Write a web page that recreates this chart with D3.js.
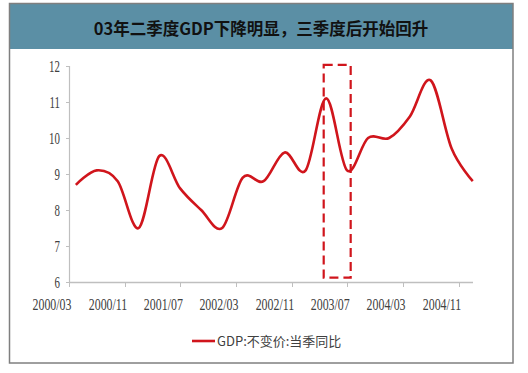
<!DOCTYPE html>
<html lang="zh">
<head>
<meta charset="utf-8">
<title>GDP</title>
<script src="https://d3js.org/d3.v7.min.js"></script>
<style>
  body { margin: 0; background: #fff; }
  .tick-label { font-family: "Liberation Serif", "DejaVu Serif", serif; font-size: 16px; fill: #404040; }
</style>
</head>
<body>
<script>
// quarterly real GDP growth, 2000Q1 - 2004Q4
var quarters = ["2000-03-31", "2000-06-30", "2000-09-30", "2000-12-31",
                "2001-03-31", "2001-06-30", "2001-09-30", "2001-12-31",
                "2002-03-31", "2002-06-30", "2002-09-30", "2002-12-31",
                "2003-03-31", "2003-06-30", "2003-09-30", "2003-12-31",
                "2004-03-31", "2004-06-30", "2004-09-30", "2004-12-31"];
var gdp = [8.7, 9.1, 8.8, 7.5,
           9.5, 8.6, 8.0, 7.5,
           8.9, 8.8, 9.6, 9.1,
           11.1, 9.1, 10.0, 10.0,
           10.6, 11.6, 9.7, 8.8];
var xTickLabels = ["2000/03", "2000/11", "2001/07", "2002/03", "2002/11", "2003/07", "2004/03", "2004/11"];
var yTicks = [6, 7, 8, 9, 10, 11, 12];
// highlighted period (dashed box)
var boxDates = ["2003-03-20", "2003-07-16"];
var boxValues = [6.12, 12.03];
var title = "03年二季度GDP下降明显，三季度后开始回升";
var seriesName = "GDP:不变价:当季同比";

var width = 528, height = 373;
var red = "#d0151c";
var parseDay = d3.timeParse("%Y-%m-%d");
var parseMonth = d3.timeParse("%Y/%m");

var svg = d3.select("body").append("svg")
    .attr("width", width)
    .attr("height", height);

svg.append("rect")
    .attr("x", 0).attr("y", 0)
    .attr("width", width).attr("height", height)
    .attr("fill", "#fff");

// title bar + frame
svg.append("rect")
    .attr("x", 9.5).attr("y", 3.5)
    .attr("width", 503.5).attr("height", 45.5)
    .attr("fill", "#5b8fa5");
svg.append("rect")
    .attr("x", 9.5).attr("y", 3.5)
    .attr("width", 503.5).attr("height", 359.5)
    .attr("fill", "none")
    .attr("stroke", "#7f7f7f")
    .attr("stroke-width", 1.5);
svg.append("text")
    .attr("x", 261).attr("y", 31)
    .attr("text-anchor", "middle")
    .attr("dominant-baseline", "middle")
    .style("font-family", "'Noto Sans CJK SC', sans-serif")
    .style("font-size", "16.5px")
    .style("font-weight", "bold")
    .style("fill", "#111")
    .text(title);

var x = d3.scaleTime()
    .domain([parseMonth("2000/03"), parseMonth("2005/01")])
    .range([69, 473]);
var y = d3.scaleLinear()
    .domain([6, 12])
    .range([282, 66]);

// axes
var axisColor = "#bfbfbf";
svg.append("line")
    .attr("x1", 69.5).attr("x2", 69.5)
    .attr("y1", y(12)).attr("y2", y(6))
    .attr("stroke", axisColor).attr("stroke-width", 1.2);
svg.append("line")
    .attr("x1", 69).attr("x2", 473)
    .attr("y1", y(6) + 0.5).attr("y2", y(6) + 0.5)
    .attr("stroke", axisColor).attr("stroke-width", 1.5);

svg.selectAll(".ytick").data(yTicks).enter().append("line")
    .attr("x1", 66).attr("x2", 69.5)
    .attr("y1", function(d) { return Math.round(y(d)) + 0.5; })
    .attr("y2", function(d) { return Math.round(y(d)) + 0.5; })
    .attr("stroke", axisColor);
svg.selectAll(".ylab").data(yTicks).enter().append("text")
    .attr("class", "tick-label")
    .attr("text-anchor", "end")
    .style("font-size", "17px")
    .attr("transform", function(d) { return "translate(60," + (y(d) + 6) + ") scale(0.64,1)"; })
    .text(function(d) { return d; });

svg.selectAll(".xtick").data(xTickLabels).enter().append("line")
    .attr("x1", function(d) { return Math.round(x(parseMonth(d))) + 0.5; })
    .attr("x2", function(d) { return Math.round(x(parseMonth(d))) + 0.5; })
    .attr("y1", y(6)).attr("y2", y(6) + 5)
    .attr("stroke", axisColor);
svg.selectAll(".xlab").data(xTickLabels).enter().append("text")
    .attr("class", "tick-label")
    .attr("text-anchor", "middle")
    .style("font-size", "17.5px")
    .attr("transform", function(d) { return "translate(" + (x(parseMonth(d)) - 17) + ",309.5) scale(0.68,1)"; })
    .text(function(d) { return d; });

// series
var points = quarters.map(function(q, i) { return { date: parseDay(q), value: gdp[i] }; });
var line = d3.line()
    .x(function(d) { return x(d.date); })
    .y(function(d) { return y(d.value); })
    .curve(d3.curveCatmullRom.alpha(0));
svg.append("path")
    .datum(points)
    .attr("d", line)
    .attr("fill", "none")
    .attr("stroke", red)
    .attr("stroke-width", 2.6)
    .attr("stroke-linejoin", "round");

// dashed highlight box
svg.append("rect")
    .attr("x", x(parseDay(boxDates[0])))
    .attr("y", y(boxValues[1]))
    .attr("width", x(parseDay(boxDates[1])) - x(parseDay(boxDates[0])))
    .attr("height", y(boxValues[0]) - y(boxValues[1]))
    .attr("fill", "none")
    .attr("stroke", red)
    .attr("stroke-width", 2.2)
    .attr("stroke-dasharray", "9,5");

// legend
svg.append("line")
    .attr("x1", 192).attr("x2", 215)
    .attr("y1", 341).attr("y2", 341)
    .attr("stroke", red).attr("stroke-width", 2.6);
svg.append("text")
    .attr("x", 217).attr("y", 345.5)
    .style("font-family", "'Noto Sans CJK SC', sans-serif")
    .style("font-size", "13px")
    .style("fill", "#404040")
    .text(seriesName);
</script>
</body>
</html>
